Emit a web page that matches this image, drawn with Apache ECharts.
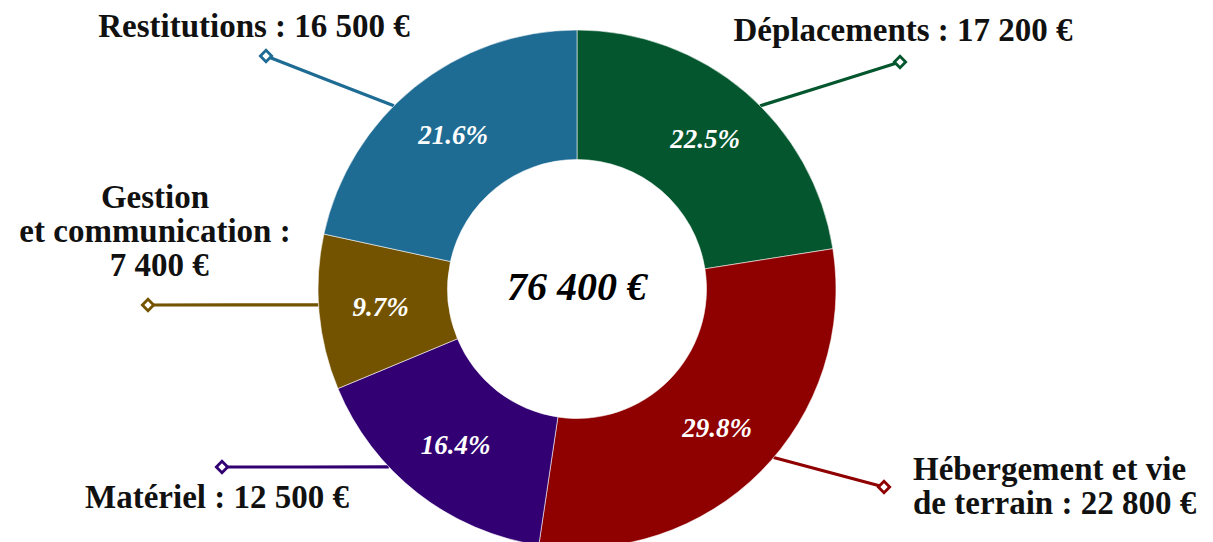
<!DOCTYPE html>
<html>
<head>
<meta charset="utf-8">
<script src="https://cdn.jsdelivr.net/npm/echarts@6/dist/echarts.min.js"></script>
<style>
  html, body { margin: 0; padding: 0; background: #fff; }
  #budget_donut { width: 1213px; height: 542px; }
</style>
</head>
<body>
<div id="budget_donut"></div>
<script>
// données du budget
var categories = ['Déplacements', 'Hébergement et vie\nde terrain', 'Matériel', 'Gestion\net communication', 'Restitutions'];
var amounts = [17200, 22800, 12500, 7400, 16500];
var sliceColors = ['#03562d', '#8f0000', '#320073', '#745300', '#1e6b93'];

// mise en page des étiquettes (angle d'accroche, bout du trait, texte)
var labelPos = [
    { anchor: 45,    ex: 900, ey: 62,  x: 903,  y: 30,  align: 'center' },
    { anchor: 130.6, ex: 884, ey: 487, x: 913,  y: 486, align: 'left' },
    { anchor: 226.6, ex: 222, ey: 467, x: 217,  y: 497, align: 'center' },
    { anchor: 266.5, ex: 148, ey: 305, x: 155,  y: 231, align: 'center' },
    { anchor: 315,   ex: 266, ey: 56,  x: 254,  y: 26,  align: 'center' }
];
var labelText = ['Déplacements :', 'Hébergement et vie\nde terrain :', 'Matériel :', 'Gestion\net communication :\n', 'Restitutions :'];

var cx = 577, cy = 289, rOut = 259, rIn = 129.5;
var serif = '"Liberation Serif", "DejaVu Serif", serif';

// séparateur de milliers
function fmt(n) {
    return String(n).replace(/\B(?=(\d{3})+(?!\d))/g, ' ') + ' €';
}

var total = 0;
for (var i = 0; i < amounts.length; i++) total += amounts[i];

var pieData = [];
for (var i = 0; i < amounts.length; i++) {
    pieData.push({ name: categories[i], value: amounts[i], itemStyle: { color: sliceColors[i] } });
}

var myChart = echarts.init(document.getElementById('budget_donut'), null, { renderer: 'svg' });

var extras = [];
for (var i = 0; i < labelPos.length; i++) {
    extras.push({
        type: 'rect',
        x: labelPos[i].ex,
        y: labelPos[i].ey,
        rotation: Math.PI / 4,
        shape: { x: -4, y: -4, width: 8, height: 8 },
        style: { fill: '#fff', stroke: sliceColors[i], lineWidth: 2.8 },
        z: 100
    });
}
extras.push({
    type: 'text',
    x: cx,
    y: cy - 3,
    style: {
        text: fmt(total),
        align: 'center',
        verticalAlign: 'middle',
        font: 'italic bold 40px ' + serif,
        fill: '#000'
    },
    z: 100
});

var option = {
    animation: false,
    graphic: extras,
    series: [{
        name: 'budget',
        type: 'pie',
        center: [cx, cy],
        radius: [rIn, rOut],
        startAngle: 90,
        clockwise: true,
        silent: true,
        itemStyle: { borderColor: 'rgba(255,255,255,0.7)', borderWidth: 0.8 },
        label: {
            show: true,
            position: 'inside',
            formatter: function (p) {
                return (p.value / total * 100).toFixed(1) + '%';
            },
            color: '#fff',
            fontFamily: serif,
            fontStyle: 'italic',
            fontWeight: 'bold',
            fontSize: 27
        },
        labelLine: { show: false },
        data: pieData
    }, {
        name: 'etiquettes',
        type: 'pie',
        center: [cx, cy],
        radius: [rIn, rOut],
        startAngle: 90,
        clockwise: true,
        silent: true,
        itemStyle: { color: 'rgba(0,0,0,0)', borderWidth: 0 },
        label: {
            show: true,
            position: 'outside',
            overflow: 'none',
            formatter: function (p) {
                return labelText[p.dataIndex] + ' ' + fmt(p.value);
            },
            color: '#111',
            fontFamily: serif,
            fontWeight: 'bold',
            fontSize: 33,
            lineHeight: 34
        },
        labelLine: {
            show: true,
            lineStyle: { width: 3.2 }
        },
        labelLayout: function (p) {
            var L = labelPos[p.dataIndex];
            var a = L.anchor * Math.PI / 180;
            var sx = cx + rOut * Math.sin(a), sy = cy - rOut * Math.cos(a);
            return {
                x: L.x,
                y: L.y,
                align: L.align,
                verticalAlign: 'middle',
                labelLinePoints: [[sx, sy], [(sx + L.ex) / 2, (sy + L.ey) / 2], [L.ex, L.ey]]
            };
        },
        data: pieData.map(function (d, i) {
            return {
                name: d.name,
                value: d.value,
                labelLine: { lineStyle: { color: sliceColors[i] } },
                label: { align: labelPos[i].align }
            };
        })
    }]
};
myChart.setOption(option);
</script>
</body>
</html>
